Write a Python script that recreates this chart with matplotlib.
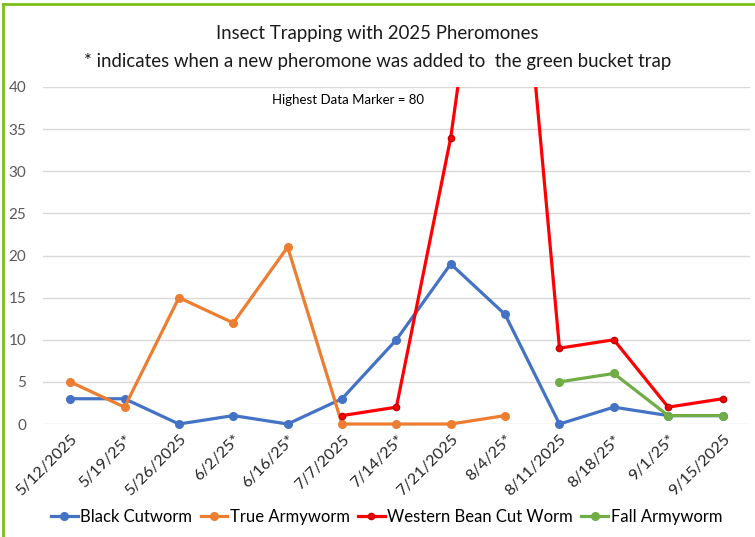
import matplotlib.pyplot as plt
import numpy as np
from matplotlib.lines import Line2D

plt.rcParams['font.family'] = ['Lato', 'DejaVu Sans']

# Trap dates (x categories); * marks a new pheromone in the green bucket trap
dates = ["5/12/2025", "5/19/25*", "5/26/2025", "6/2/25*", "6/16/25*", "7/7/2025",
         "7/14/25*", "7/21/2025", "8/4/25*", "8/11/2025", "8/18/25*", "9/1/25*",
         "9/15/2025"]

nan = np.nan
black_cutworm = [3, 3, 0, 1, 0, 3, 10, 19, 13, 0, 2, 1, 1]
true_armyworm = [5, 2, 15, 12, 21, 0, 0, 0, 1, nan, nan, nan, nan]
western_bean = [nan, nan, nan, nan, nan, 1, 2, 34, 80, 9, 10, 2, 3]
fall_armyworm = [nan, nan, nan, nan, nan, nan, nan, nan, nan, 5, 6, 1, 1]

series = [
    ("Black Cutworm", black_cutworm, "#4472C4"),
    ("True Armyworm", true_armyworm, "#ED7D31"),
    ("Western Bean Cut Worm", western_bean, "#FF0000"),
    ("Fall Armyworm", fall_armyworm, "#70AD47"),
]

fig = plt.figure(figsize=(7.55, 5.37), dpi=100)
ax = fig.add_axes([0.057, 0.2104, 0.936, 0.6276])

x = np.arange(len(dates))
for name, vals, col in series:
    # red line runs off the top of the chart, so only it gets clipped
    clip = name == "Western Bean Cut Worm"
    ms = 4.5 if clip else 5.5
    ax.plot(x, vals, color=col, lw=2.3, marker='o', ms=ms, label=name,
            clip_on=clip, zorder=3,
            mec='#C00000' if clip else col)

ax.set_xlim(-0.5, len(dates) - 0.5)
ax.set_ylim(0, 40)
ax.set_yticks(range(0, 41, 5))
ax.set_xticks(x)
ax.set_xticklabels(dates, rotation=45, ha='right', rotation_mode='anchor',
                   fontsize=11.5, color='#262626')
ax.tick_params(axis='y', labelsize=11, labelcolor='#595959', length=0, pad=12)
ax.tick_params(axis='x', length=0, pad=6)
ax.grid(axis='y', color='#D9D9D9', lw=1)
ax.set_axisbelow(True)
for s in ax.spines.values():
    s.set_visible(False)

ax.text(0.431, 0.96, "Highest Data Marker = 80", transform=ax.transAxes,
        ha='center', va='center', fontsize=9.5, color='black')

fig.text(0.5, 0.937, "Insect Trapping with 2025 Pheromones", ha='center',
         va='center', fontsize=13.4, color='#1a1a1a')
fig.text(0.5, 0.886, "* indicates when a new pheromone was added to  the green bucket trap",
         ha='center', va='center', fontsize=13.4, color='#1a1a1a')

ax.legend(loc='center', bbox_to_anchor=(0.512, 0.037), bbox_transform=fig.transFigure,
          ncol=4, frameon=False, fontsize=12, handlelength=1.6,
          columnspacing=0.5, handletextpad=0.15, borderpad=0)

# green border on the left and top edges
fig.add_artist(Line2D([0.004, 0.004], [0, 0.993], transform=fig.transFigure,
                      color='#7AC11A', lw=2))
fig.add_artist(Line2D([0.004, 1], [0.993, 0.993], transform=fig.transFigure,
                      color='#7AC11A', lw=2))

fig.savefig("out.png", dpi=100)
